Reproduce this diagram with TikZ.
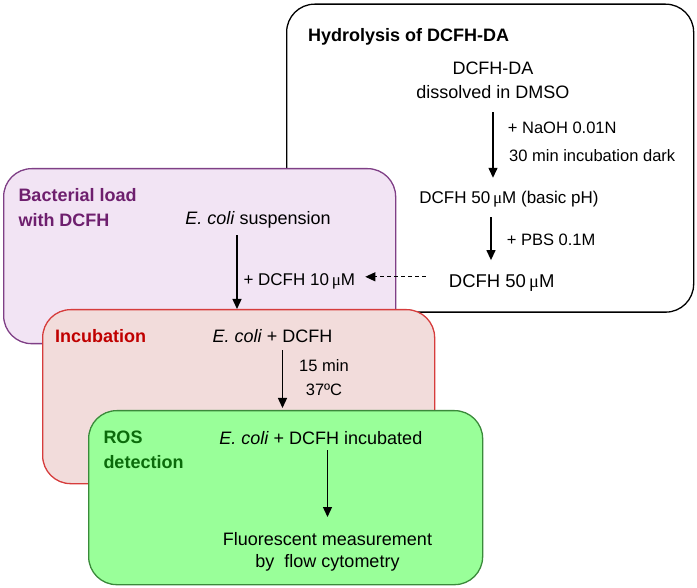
\documentclass[tikz,border=0pt]{standalone}
\usepackage{fontspec}
\setmainfont{Liberation Sans}
\newfontfamily\greekfont{Liberation Serif}
\newcommand{\um}{\,{\greekfont μ}M}
\usetikzlibrary{arrows.meta}
\definecolor{loadfill}{HTML}{F2E4F4}
\definecolor{loadline}{HTML}{7F3F86}
\definecolor{loadtext}{HTML}{6E1F6E}
\definecolor{incfill}{HTML}{F2DCDB}
\definecolor{incline}{HTML}{D63C3C}
\definecolor{inctext}{HTML}{C00000}
\definecolor{rosfill}{HTML}{99FF99}
\definecolor{rosline}{HTML}{3A8A3A}
\definecolor{rostext}{HTML}{0B6B0B}
\begin{document}
\begin{tikzpicture}[x=1pt, y=-1pt,
    stage/.style={draw, rounded corners=28pt, line width=1.3pt, anchor=north west, inner sep=0pt},
    heading/.style={font=\bfseries\fontsize{18}{25}\selectfont, inner sep=0pt, align=left},
    txt/.style={font=\fontsize{18}{24}\selectfont, inner sep=0pt, text height=13pt, text depth=4pt, anchor=base},
    block/.style={font=\fontsize{18}{24}\selectfont, inner sep=0pt, align=center},
    side/.style={font=\fontsize{16.5}{23}\selectfont, inner sep=0pt, anchor=base west},
    flow/.style={-{Triangle[length=10pt,width=9pt]}, line width=1.3pt}]

\useasboundingbox (0,0) rectangle (697,588);

% stages
\node[stage, minimum width=407pt, minimum height=308pt] (hyd) at (286,3.5) {};
\node[stage, draw=loadline, fill=loadfill, minimum width=392pt, minimum height=175pt] (load) at (3,168) {};
\node[stage, draw=incline, fill=incfill, minimum width=392pt, minimum height=174pt] (incub) at (42,309) {};
\node[stage, draw=rosline, fill=rosfill, minimum width=394pt, minimum height=174pt] (ros) at (88,410) {};

% hydrolysis
\node[heading, anchor=base west] (hydtitle) at (308,41.7) {Hydrolysis of DCFH-DA};
\node[block, anchor=north] (dmso) at (493,62) {DCFH-DA\\dissolved in DMSO};
\node[side] (naoh) at (507.7,134) {+ NaOH 0.01N};
\node[side] (dark) at (509,162) {30 min incubation dark};
\node[txt, font=\fontsize{17}{23}\selectfont] (basic) at (509,204) {DCFH 50\um{} (basic pH)};
\node[side] (pbs) at (506.7,245.7) {+ PBS 0.1M};
\node[txt, font=\fontsize{18.5}{24}\selectfont] (stock) at (501.7,287.3) {DCFH 50\um};

% bacterial load
\node[heading, text=loadtext, anchor=north west] (loadtitle) at (18.3,188) {Bacterial load\\with DCFH};
\node[txt] (susp) at (258,224.3) {\textit{E. coli} suspension};
\node[side, font=\fontsize{17}{23}\selectfont] (dose) at (243.3,286) {+ DCFH 10\um};

% incubation
\node[heading, text=inctext, anchor=base west] (inctitle) at (55,342.7) {Incubation};
\node[txt] (mix) at (272.5,342.3) {\textit{E. coli} + DCFH};
\node[block, font=\fontsize{16.5}{23.3}\selectfont, anchor=north] (temp) at (324,359.7) {15 min\\37ºC};

% ROS detection
\node[heading, text=rostext, anchor=north west] (rostitle) at (103.3,430.3) {ROS\\detection};
\node[txt] (incubd) at (320.8,444) {\textit{E. coli} + DCFH incubated};
\node[block, anchor=north] (fluor) at (327.5,532) {Fluorescent measurement\\[-2pt]by\ \ flow cytometry};

% arrows
\draw[flow, shorten <=13pt, shorten >=13pt] (dmso.south) -- (dmso.south |- basic.north);
\draw[flow, shorten <=9pt, shorten >=14pt] ([xshift=-2pt]dmso.south |- basic.south) -- ([xshift=-2pt]dmso.south |- stock.north);
\draw[flow, shorten <=7pt] ([xshift=-21pt]susp.south) -- ([xshift=-21pt]susp.south |- incub.north);
\draw[flow, shorten <=4pt, shorten >=2pt] ([xshift=10pt]mix.south) -- ([xshift=10pt]mix.south |- ros.north);
\draw[flow, shorten <=2pt, shorten >=15pt] (fluor.north |- incubd.south) -- (fluor.north);
\draw[flow, line width=1pt, dash pattern=on 4pt off 3pt, shorten <=23pt, shorten >=10pt] ([yshift=6pt]stock.west) -- ([yshift=6pt]stock.west -| dose.east);

\end{tikzpicture}
\end{document}
